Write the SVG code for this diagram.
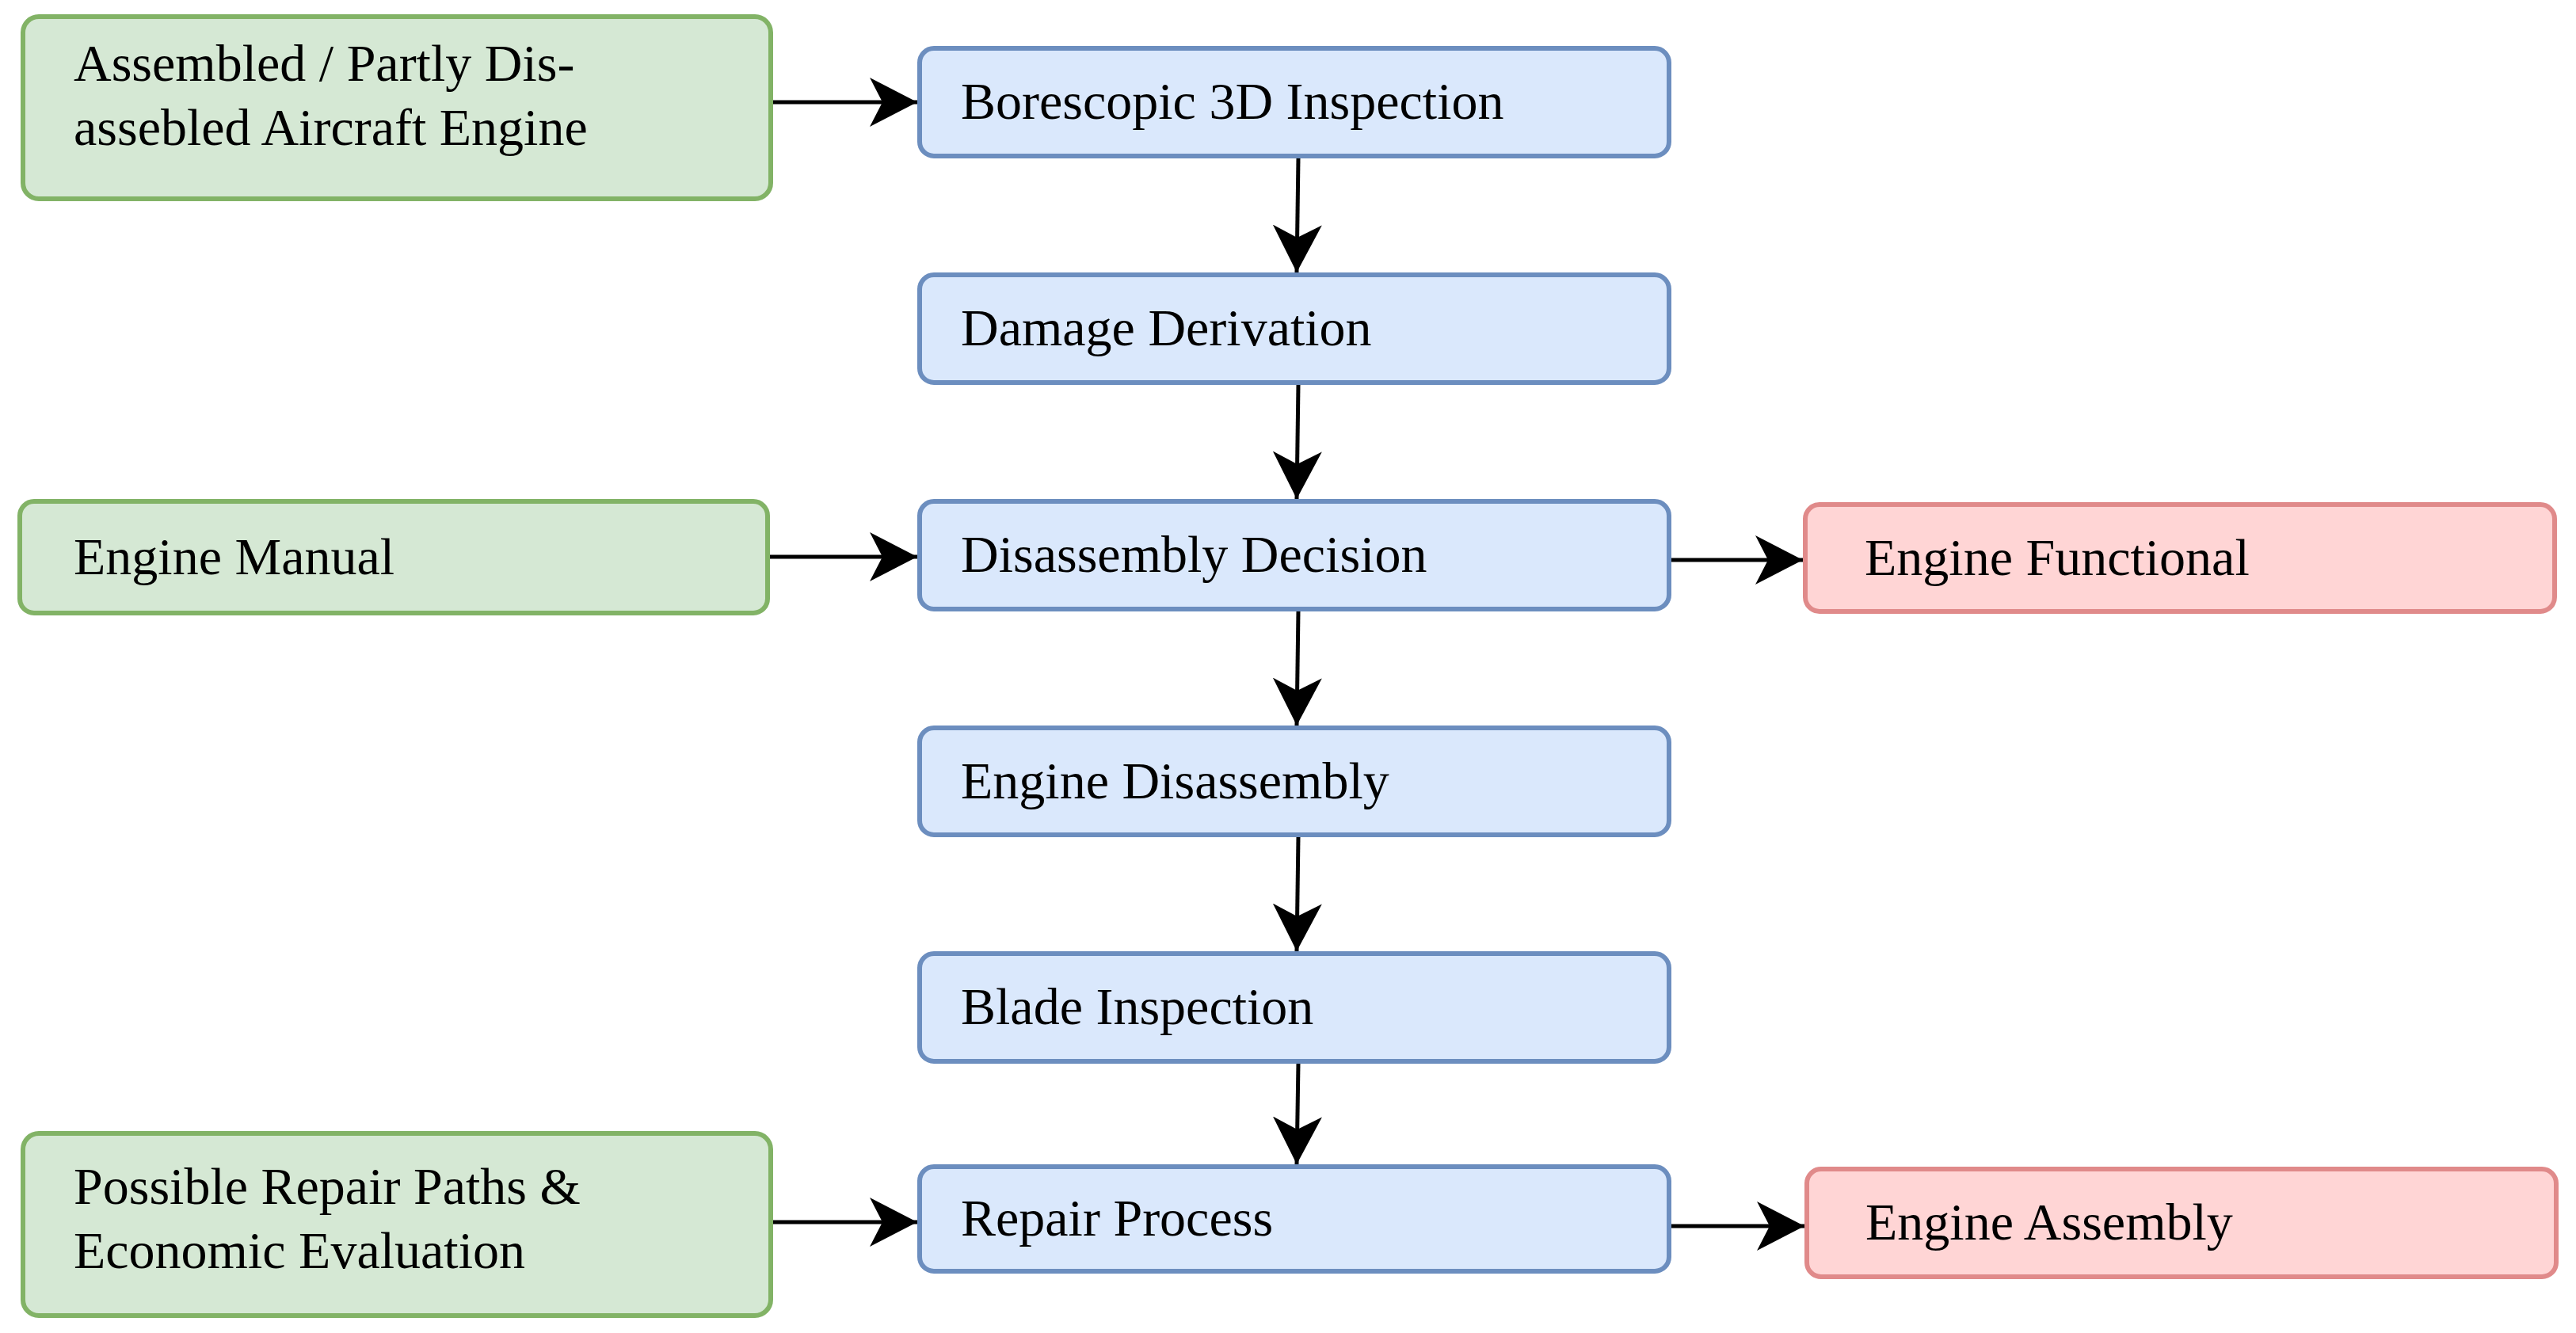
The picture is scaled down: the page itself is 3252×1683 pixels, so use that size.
<svg xmlns="http://www.w3.org/2000/svg" width="3252" height="1683" viewBox="0 0 3252 1683">
<style>
rect{stroke-width:6}
.g{fill:#d5e8d4;stroke:#82b366}
.b{fill:#dae8fc;stroke:#6c8ebf}
.r{fill:#ffd5d5;stroke:#e08a8a}
text{font-family:"Liberation Serif","DejaVu Serif",serif;font-size:66px;fill:#000}
.c line{stroke:#000;stroke-width:5;marker-end:url(#ah)}
</style>
<defs>
<marker id="ah" markerUnits="userSpaceOnUse" markerWidth="62" markerHeight="64" viewBox="0 -32 62 64" refX="60" refY="0" orient="auto">
<path d="M0,-31 L60,0 L0,31 L16,0 Z" fill="#000"/>
</marker>
</defs>
<rect width="3252" height="1683" fill="#fff" stroke="none"/>
<g id="n_engine_in"><rect class="g" x="29" y="21" width="944" height="230" rx="20"/><text x="93" y="102">Assembled / Partly Dis-</text><text x="93" y="183">assebled Aircraft Engine</text></g>
<g id="n_bore"><rect class="b" x="1161" y="61" width="946" height="136" rx="18"/><text x="1213" y="150">Borescopic 3D Inspection</text></g>
<g id="n_damage"><rect class="b" x="1161" y="347" width="946" height="136" rx="18"/><text x="1213" y="436">Damage Derivation</text></g>
<g id="n_manual"><rect class="g" x="25" y="633" width="944" height="141" rx="18"/><text x="93" y="725">Engine Manual</text></g>
<g id="n_decision"><rect class="b" x="1161" y="633" width="946" height="136" rx="18"/><text x="1213" y="722">Disassembly Decision</text></g>
<g id="n_functional"><rect class="r" x="2279" y="637" width="946" height="135" rx="18"/><text x="2354" y="726">Engine Functional</text></g>
<g id="n_disassembly"><rect class="b" x="1161" y="919" width="946" height="135" rx="18"/><text x="1213" y="1008">Engine Disassembly</text></g>
<g id="n_blade"><rect class="b" x="1161" y="1204" width="946" height="136" rx="18"/><text x="1213" y="1293">Blade Inspection</text></g>
<g id="n_paths"><rect class="g" x="29" y="1431" width="944" height="230" rx="20"/><text x="93" y="1520">Possible Repair Paths &amp;</text><text x="93" y="1601">Economic Evaluation</text></g>
<g id="n_repair"><rect class="b" x="1161" y="1473" width="946" height="132" rx="18"/><text x="1213" y="1560">Repair Process</text></g>
<g id="n_assembly"><rect class="r" x="2281" y="1476" width="946" height="136" rx="18"/><text x="2355" y="1565">Engine Assembly</text></g>
<g id="connectors" class="c">
<line x1="976" y1="129" x2="1158" y2="129"/>
<line x1="1639" y1="200" x2="1637" y2="344"/>
<line x1="1639" y1="486" x2="1637" y2="630"/>
<line x1="972" y1="703" x2="1158" y2="703"/>
<line x1="2110" y1="707" x2="2276" y2="707"/>
<line x1="1639" y1="772" x2="1637" y2="916"/>
<line x1="1639" y1="1057" x2="1637" y2="1201"/>
<line x1="1639" y1="1343" x2="1637" y2="1470"/>
<line x1="976" y1="1543" x2="1158" y2="1543"/>
<line x1="2110" y1="1548" x2="2278" y2="1548"/>
</g>
</svg>
